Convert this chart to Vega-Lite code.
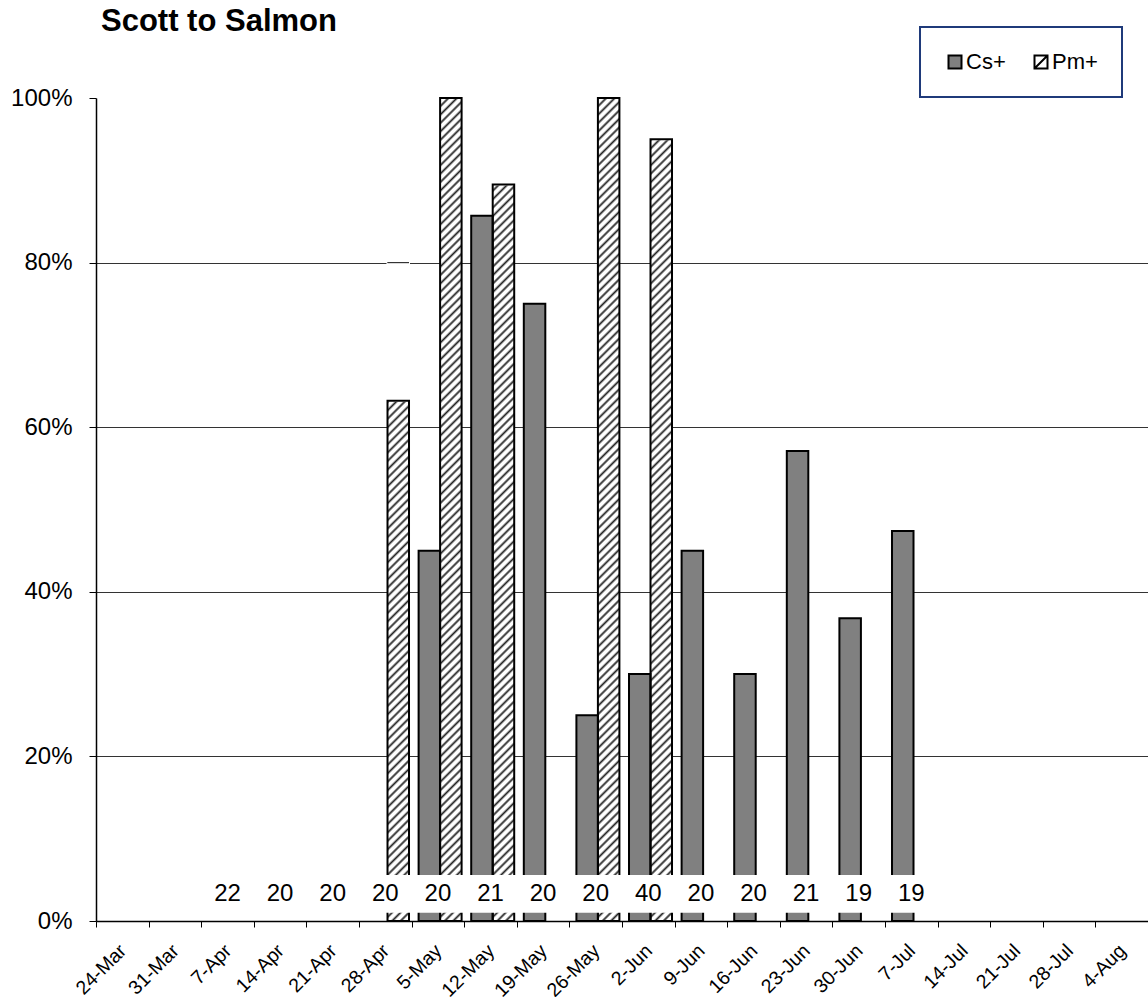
{
"$schema":"https://vega.github.io/schema/vega-lite/v6.json",
"autosize":"none",
"width":1052,"height":823,
"padding":{"left":96,"top":98,"right":0,"bottom":76},
"background":"white",
"config":{"view":{"stroke":null},"font":"Liberation Sans",
"legend":{"direction":"horizontal","padding":24,"strokeColor":"#1f3a7a","strokeWidth":2,"fillColor":"white","labelFontSize":22,"labelColor":"black","labelFont":"Liberation Sans","symbolSize":169,"symbolStrokeColor":"black","symbolStrokeWidth":2,"symbolOpacity":1,"labelOffset":0,"columnPadding":24,"cornerRadius":0}},
"title":{"text":"Scott to Salmon","anchor":"start","frame":"group","fontSize":31,"fontWeight":"bold","baseline":"alphabetic","offset":-36,"dx":5,"color":"black","font":"Liberation Sans"},
"datasets":{
"bars":[
{"date":"5-May","series":"Cs+","value":0.45},
{"date":"12-May","series":"Cs+","value":0.857},
{"date":"19-May","series":"Cs+","value":0.75},
{"date":"26-May","series":"Cs+","value":0.25},
{"date":"2-Jun","series":"Cs+","value":0.30},
{"date":"9-Jun","series":"Cs+","value":0.45},
{"date":"16-Jun","series":"Cs+","value":0.30},
{"date":"23-Jun","series":"Cs+","value":0.571},
{"date":"30-Jun","series":"Cs+","value":0.368},
{"date":"7-Jul","series":"Cs+","value":0.474},
{"date":"28-Apr","series":"Pm+","value":0.632},
{"date":"5-May","series":"Pm+","value":1.0},
{"date":"12-May","series":"Pm+","value":0.895},
{"date":"26-May","series":"Pm+","value":1.0},
{"date":"2-Jun","series":"Pm+","value":0.95}
],
"counts":[
{"date":"7-Apr","n":22},{"date":"14-Apr","n":20},{"date":"21-Apr","n":20},{"date":"28-Apr","n":20},
{"date":"5-May","n":20},{"date":"12-May","n":21},{"date":"19-May","n":20},{"date":"26-May","n":20},
{"date":"2-Jun","n":40},{"date":"9-Jun","n":20},{"date":"16-Jun","n":20},{"date":"23-Jun","n":21},
{"date":"30-Jun","n":19},{"date":"7-Jul","n":19}
]
},
"layer":[
{"data":{"name":"bars"},
"transform":[{"filter":"datum.series === 'Pm+'"}],
"mark":{"type":"bar","stroke":null,"fill":{"gradient":"linear","x1":0,"y1":0,"x2":0.0268,"y2":1.0254,"stops":[
{"offset":0,"color":"#222"},{"offset":0.003,"color":"#fff"},{"offset":0.007,"color":"#fff"},
{"offset":0.01,"color":"#222"},{"offset":0.013,"color":"#fff"},{"offset":0.017,"color":"#fff"},
{"offset":0.02,"color":"#222"},{"offset":0.023,"color":"#fff"},{"offset":0.027,"color":"#fff"},
{"offset":0.03,"color":"#222"},{"offset":0.033,"color":"#fff"},{"offset":0.037,"color":"#fff"},
{"offset":0.04,"color":"#222"},{"offset":0.043,"color":"#fff"},{"offset":0.047,"color":"#fff"},
{"offset":0.05,"color":"#222"},{"offset":0.053,"color":"#fff"},{"offset":0.057,"color":"#fff"},
{"offset":0.06,"color":"#222"},{"offset":0.063,"color":"#fff"},{"offset":0.067,"color":"#fff"},
{"offset":0.07,"color":"#222"},{"offset":0.073,"color":"#fff"},{"offset":0.077,"color":"#fff"},
{"offset":0.08,"color":"#222"},{"offset":0.083,"color":"#fff"},{"offset":0.087,"color":"#fff"},
{"offset":0.09,"color":"#222"},{"offset":0.093,"color":"#fff"},{"offset":0.097,"color":"#fff"},
{"offset":0.1,"color":"#222"},{"offset":0.103,"color":"#fff"},{"offset":0.107,"color":"#fff"},
{"offset":0.11,"color":"#222"},{"offset":0.113,"color":"#fff"},{"offset":0.117,"color":"#fff"},
{"offset":0.12,"color":"#222"},{"offset":0.123,"color":"#fff"},{"offset":0.127,"color":"#fff"},
{"offset":0.13,"color":"#222"},{"offset":0.133,"color":"#fff"},{"offset":0.137,"color":"#fff"},
{"offset":0.14,"color":"#222"},{"offset":0.143,"color":"#fff"},{"offset":0.147,"color":"#fff"},
{"offset":0.15,"color":"#222"},{"offset":0.153,"color":"#fff"},{"offset":0.157,"color":"#fff"},
{"offset":0.16,"color":"#222"},{"offset":0.163,"color":"#fff"},{"offset":0.167,"color":"#fff"},
{"offset":0.17,"color":"#222"},{"offset":0.173,"color":"#fff"},{"offset":0.177,"color":"#fff"},
{"offset":0.18,"color":"#222"},{"offset":0.183,"color":"#fff"},{"offset":0.187,"color":"#fff"},
{"offset":0.19,"color":"#222"},{"offset":0.193,"color":"#fff"},{"offset":0.197,"color":"#fff"},
{"offset":0.2,"color":"#222"},{"offset":0.203,"color":"#fff"},{"offset":0.207,"color":"#fff"},
{"offset":0.21,"color":"#222"},{"offset":0.213,"color":"#fff"},{"offset":0.217,"color":"#fff"},
{"offset":0.22,"color":"#222"},{"offset":0.223,"color":"#fff"},{"offset":0.227,"color":"#fff"},
{"offset":0.23,"color":"#222"},{"offset":0.233,"color":"#fff"},{"offset":0.237,"color":"#fff"},
{"offset":0.24,"color":"#222"},{"offset":0.243,"color":"#fff"},{"offset":0.247,"color":"#fff"},
{"offset":0.25,"color":"#222"},{"offset":0.253,"color":"#fff"},{"offset":0.257,"color":"#fff"},
{"offset":0.26,"color":"#222"},{"offset":0.263,"color":"#fff"},{"offset":0.267,"color":"#fff"},
{"offset":0.27,"color":"#222"},{"offset":0.273,"color":"#fff"},{"offset":0.277,"color":"#fff"},
{"offset":0.28,"color":"#222"},{"offset":0.283,"color":"#fff"},{"offset":0.287,"color":"#fff"},
{"offset":0.29,"color":"#222"},{"offset":0.293,"color":"#fff"},{"offset":0.297,"color":"#fff"},
{"offset":0.3,"color":"#222"},{"offset":0.303,"color":"#fff"},{"offset":0.307,"color":"#fff"},
{"offset":0.31,"color":"#222"},{"offset":0.313,"color":"#fff"},{"offset":0.317,"color":"#fff"},
{"offset":0.32,"color":"#222"},{"offset":0.323,"color":"#fff"},{"offset":0.327,"color":"#fff"},
{"offset":0.33,"color":"#222"},{"offset":0.333,"color":"#fff"},{"offset":0.337,"color":"#fff"},
{"offset":0.34,"color":"#222"},{"offset":0.343,"color":"#fff"},{"offset":0.347,"color":"#fff"},
{"offset":0.35,"color":"#222"},{"offset":0.353,"color":"#fff"},{"offset":0.357,"color":"#fff"},
{"offset":0.36,"color":"#222"},{"offset":0.363,"color":"#fff"},{"offset":0.367,"color":"#fff"},
{"offset":0.37,"color":"#222"},{"offset":0.373,"color":"#fff"},{"offset":0.377,"color":"#fff"},
{"offset":0.38,"color":"#222"},{"offset":0.383,"color":"#fff"},{"offset":0.387,"color":"#fff"},
{"offset":0.39,"color":"#222"},{"offset":0.393,"color":"#fff"},{"offset":0.397,"color":"#fff"},
{"offset":0.4,"color":"#222"},{"offset":0.403,"color":"#fff"},{"offset":0.407,"color":"#fff"},
{"offset":0.41,"color":"#222"},{"offset":0.413,"color":"#fff"},{"offset":0.417,"color":"#fff"},
{"offset":0.42,"color":"#222"},{"offset":0.423,"color":"#fff"},{"offset":0.427,"color":"#fff"},
{"offset":0.43,"color":"#222"},{"offset":0.433,"color":"#fff"},{"offset":0.437,"color":"#fff"},
{"offset":0.44,"color":"#222"},{"offset":0.443,"color":"#fff"},{"offset":0.447,"color":"#fff"},
{"offset":0.45,"color":"#222"},{"offset":0.453,"color":"#fff"},{"offset":0.457,"color":"#fff"},
{"offset":0.46,"color":"#222"},{"offset":0.463,"color":"#fff"},{"offset":0.467,"color":"#fff"},
{"offset":0.47,"color":"#222"},{"offset":0.473,"color":"#fff"},{"offset":0.477,"color":"#fff"},
{"offset":0.48,"color":"#222"},{"offset":0.483,"color":"#fff"},{"offset":0.487,"color":"#fff"},
{"offset":0.49,"color":"#222"},{"offset":0.493,"color":"#fff"},{"offset":0.497,"color":"#fff"},
{"offset":0.5,"color":"#222"},{"offset":0.503,"color":"#fff"},{"offset":0.507,"color":"#fff"},
{"offset":0.51,"color":"#222"},{"offset":0.513,"color":"#fff"},{"offset":0.517,"color":"#fff"},
{"offset":0.52,"color":"#222"},{"offset":0.523,"color":"#fff"},{"offset":0.527,"color":"#fff"},
{"offset":0.53,"color":"#222"},{"offset":0.533,"color":"#fff"},{"offset":0.537,"color":"#fff"},
{"offset":0.54,"color":"#222"},{"offset":0.543,"color":"#fff"},{"offset":0.547,"color":"#fff"},
{"offset":0.55,"color":"#222"},{"offset":0.553,"color":"#fff"},{"offset":0.557,"color":"#fff"},
{"offset":0.56,"color":"#222"},{"offset":0.563,"color":"#fff"},{"offset":0.567,"color":"#fff"},
{"offset":0.57,"color":"#222"},{"offset":0.573,"color":"#fff"},{"offset":0.577,"color":"#fff"},
{"offset":0.58,"color":"#222"},{"offset":0.583,"color":"#fff"},{"offset":0.587,"color":"#fff"},
{"offset":0.59,"color":"#222"},{"offset":0.593,"color":"#fff"},{"offset":0.597,"color":"#fff"},
{"offset":0.6,"color":"#222"},{"offset":0.603,"color":"#fff"},{"offset":0.607,"color":"#fff"},
{"offset":0.61,"color":"#222"},{"offset":0.613,"color":"#fff"},{"offset":0.617,"color":"#fff"},
{"offset":0.62,"color":"#222"},{"offset":0.623,"color":"#fff"},{"offset":0.627,"color":"#fff"},
{"offset":0.63,"color":"#222"},{"offset":0.633,"color":"#fff"},{"offset":0.637,"color":"#fff"},
{"offset":0.64,"color":"#222"},{"offset":0.643,"color":"#fff"},{"offset":0.647,"color":"#fff"},
{"offset":0.65,"color":"#222"},{"offset":0.653,"color":"#fff"},{"offset":0.657,"color":"#fff"},
{"offset":0.66,"color":"#222"},{"offset":0.663,"color":"#fff"},{"offset":0.667,"color":"#fff"},
{"offset":0.67,"color":"#222"},{"offset":0.673,"color":"#fff"},{"offset":0.677,"color":"#fff"},
{"offset":0.68,"color":"#222"},{"offset":0.683,"color":"#fff"},{"offset":0.687,"color":"#fff"},
{"offset":0.69,"color":"#222"},{"offset":0.693,"color":"#fff"},{"offset":0.697,"color":"#fff"},
{"offset":0.7,"color":"#222"},{"offset":0.703,"color":"#fff"},{"offset":0.707,"color":"#fff"},
{"offset":0.71,"color":"#222"},{"offset":0.713,"color":"#fff"},{"offset":0.717,"color":"#fff"},
{"offset":0.72,"color":"#222"},{"offset":0.723,"color":"#fff"},{"offset":0.727,"color":"#fff"},
{"offset":0.73,"color":"#222"},{"offset":0.733,"color":"#fff"},{"offset":0.737,"color":"#fff"},
{"offset":0.74,"color":"#222"},{"offset":0.743,"color":"#fff"},{"offset":0.747,"color":"#fff"},
{"offset":0.75,"color":"#222"},{"offset":0.753,"color":"#fff"},{"offset":0.757,"color":"#fff"},
{"offset":0.76,"color":"#222"},{"offset":0.763,"color":"#fff"},{"offset":0.767,"color":"#fff"},
{"offset":0.77,"color":"#222"},{"offset":0.773,"color":"#fff"},{"offset":0.777,"color":"#fff"},
{"offset":0.78,"color":"#222"},{"offset":0.783,"color":"#fff"},{"offset":0.787,"color":"#fff"},
{"offset":0.79,"color":"#222"},{"offset":0.793,"color":"#fff"},{"offset":0.797,"color":"#fff"},
{"offset":0.8,"color":"#222"},{"offset":0.803,"color":"#fff"},{"offset":0.807,"color":"#fff"},
{"offset":0.81,"color":"#222"},{"offset":0.813,"color":"#fff"},{"offset":0.817,"color":"#fff"},
{"offset":0.82,"color":"#222"},{"offset":0.823,"color":"#fff"},{"offset":0.827,"color":"#fff"},
{"offset":0.83,"color":"#222"},{"offset":0.833,"color":"#fff"},{"offset":0.837,"color":"#fff"},
{"offset":0.84,"color":"#222"},{"offset":0.843,"color":"#fff"},{"offset":0.847,"color":"#fff"},
{"offset":0.85,"color":"#222"},{"offset":0.853,"color":"#fff"},{"offset":0.857,"color":"#fff"},
{"offset":0.86,"color":"#222"},{"offset":0.863,"color":"#fff"},{"offset":0.867,"color":"#fff"},
{"offset":0.87,"color":"#222"},{"offset":0.873,"color":"#fff"},{"offset":0.877,"color":"#fff"},
{"offset":0.88,"color":"#222"},{"offset":0.883,"color":"#fff"},{"offset":0.887,"color":"#fff"},
{"offset":0.89,"color":"#222"},{"offset":0.893,"color":"#fff"},{"offset":0.897,"color":"#fff"},
{"offset":0.9,"color":"#222"},{"offset":0.903,"color":"#fff"},{"offset":0.907,"color":"#fff"},
{"offset":0.91,"color":"#222"},{"offset":0.913,"color":"#fff"},{"offset":0.917,"color":"#fff"},
{"offset":0.92,"color":"#222"},{"offset":0.923,"color":"#fff"},{"offset":0.927,"color":"#fff"},
{"offset":0.93,"color":"#222"},{"offset":0.933,"color":"#fff"},{"offset":0.937,"color":"#fff"},
{"offset":0.94,"color":"#222"},{"offset":0.943,"color":"#fff"},{"offset":0.947,"color":"#fff"},
{"offset":0.95,"color":"#222"},{"offset":0.953,"color":"#fff"},{"offset":0.957,"color":"#fff"},
{"offset":0.96,"color":"#222"},{"offset":0.963,"color":"#fff"},{"offset":0.967,"color":"#fff"},
{"offset":0.97,"color":"#222"},{"offset":0.973,"color":"#fff"},{"offset":0.977,"color":"#fff"},
{"offset":0.98,"color":"#222"},{"offset":0.983,"color":"#fff"},{"offset":0.987,"color":"#fff"},
{"offset":0.99,"color":"#222"},{"offset":0.993,"color":"#fff"},{"offset":0.997,"color":"#fff"},
{"offset":1,"color":"#222"}
]}},
"encoding":{
"x":{"field":"date","type":"nominal","title":null,
"scale":{"type":"band","domain":["24-Mar","31-Mar","7-Apr","14-Apr","21-Apr","28-Apr","5-May","12-May","19-May","26-May","2-Jun","9-Jun","16-Jun","23-Jun","30-Jun","7-Jul","14-Jul","21-Jul","28-Jul","4-Aug"],"paddingInner":0,"paddingOuter":0},
"axis":{"labelAngle":-45,"labelAlign":"right","labelBaseline":"top","labelFontSize":19.5,"labelColor":"black","labelPadding":14,"labelOffset":-6,"tickBand":"extent","tickSize":6,"tickColor":"black","domainColor":"black","domainWidth":1.5,"grid":false,"labelFont":"Liberation Sans"}},
"xOffset":{"field":"series","type":"nominal","scale":{"domain":["Cs+","Pm+"],"paddingInner":0,"paddingOuter":0.2233,"align":0.73}},
"y":{"datum":1,"type":"quantitative","title":null,
"scale":{"domain":[0,1],"nice":false,"zero":true},
"axis":{"values":[0,0.2,0.4,0.6,0.8,1],"format":".0%","labelFontSize":24,"labelColor":"black","labelPadding":17,"tickSize":7,"tickColor":"black","domainColor":"black","domainWidth":1.5,"grid":true,"gridColor":"#333","gridWidth":1,"gridOpacity":{"condition":{"test":"datum.value > 0.99 || datum.value < 0.01","value":0},"value":1},"labelFont":"Liberation Sans"}},
"y2":{"datum":0}
}},
{"data":{"name":"bars"},
"transform":[{"filter":"datum.series === 'Pm+'"}],
"mark":{"type":"bar","fill":"white","stroke":"white","strokeWidth":2},
"encoding":{
"x":{"field":"date","type":"nominal","title":null},
"xOffset":{"field":"series","type":"nominal"},
"y":{"field":"value","type":"quantitative","title":null},
"y2":{"datum":1}
}},
{"data":{"name":"bars"},
"transform":[{"filter":"datum.series === 'Pm+' && datum.value < 0.8"}],
"mark":{"type":"bar","fill":"transparent","stroke":"#333","strokeWidth":1},
"encoding":{
"x":{"field":"date","type":"nominal","title":null},
"xOffset":{"field":"series","type":"nominal"},
"y":{"datum":0.8,"type":"quantitative","title":null},
"y2":{"datum":0.8}
}},
{"data":{"name":"bars"},
"mark":{"type":"bar","stroke":"black","strokeWidth":2},
"encoding":{
"x":{"field":"date","type":"nominal","title":null},
"xOffset":{"field":"series","type":"nominal"},
"y":{"field":"value","type":"quantitative","title":null},
"fill":{"condition":{"test":"datum.series === 'Cs+'","value":"#808080"},"value":"transparent"}
}},
{"data":{"name":"counts"},
"mark":{"type":"bar","fill":"white","stroke":null},
"encoding":{
"x":{"field":"date","type":"nominal","title":null},
"y":{"datum":0.056,"type":"quantitative","title":null},
"y2":{"datum":0.01}
}},
{"data":{"name":"counts"},
"mark":{"type":"text","fontSize":24,"baseline":"middle","align":"center","color":"black","font":"Liberation Sans"},
"encoding":{
"x":{"field":"date","type":"nominal","title":null},
"y":{"datum":0.033,"type":"quantitative","title":null},
"text":{"field":"n","type":"quantitative"}
}},
{"data":{"name":"bars"},
"transform":[{"filter":"datum.value < 0"}],
"mark":{"type":"point","filled":true,"opacity":1,"stroke":"black","strokeWidth":2},
"encoding":{
"x":{"field":"date","type":"nominal","title":null},
"y":{"field":"value","type":"quantitative","title":null},
"fill":{"field":"series","type":"nominal","scale":{"domain":["Cs+","Pm+"],"range":["#808080","#ffffff"]},"legend":{"title":null,"orient":"none","legendX":824,"legendY":-71,"encode":{"symbols":{"update":{"stroke":{"value":"black"},"strokeWidth":{"value":2},"opacity":{"value":1}}}}}},
"shape":{"field":"series","type":"nominal","scale":{"domain":["Cs+","Pm+"],"range":["square","M-1,-1H1V1H-1ZM-1,1L1,-1"]},"legend":{"title":null,"orient":"none","legendX":824,"legendY":-71,"encode":{"symbols":{"update":{"stroke":{"value":"black"},"strokeWidth":{"value":2},"opacity":{"value":1}}}}}}
}}
]
}
